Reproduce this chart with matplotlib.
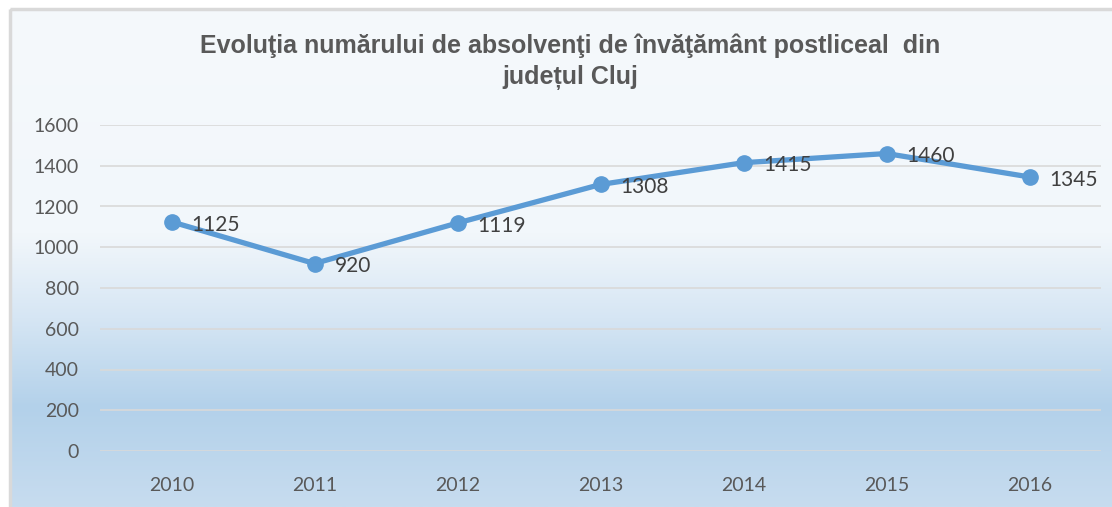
import matplotlib
matplotlib.use("Agg")
import matplotlib.pyplot as plt
import numpy as np
from matplotlib.colors import LinearSegmentedColormap
from matplotlib.patches import Rectangle

years = ["2010", "2011", "2012", "2013", "2014", "2015", "2016"]
values = [1125, 920, 1119, 1308, 1415, 1460, 1345]
yticks = [0, 200, 400, 600, 800, 1000, 1200, 1400, 1600]
title = "Evoluţia numărului de absolvenţi de învăţământ postliceal  din\njudețul Cluj"

W, H = 1112, 507
fig = plt.figure(figsize=(W / 100, H / 100), dpi=100)
fig.patch.set_facecolor("white")

# background gradient (chart area)
bg = fig.add_axes([0, 0, 1, 1], zorder=-10)
bg.set_xlim(0, W)
bg.set_ylim(H, 0)
bg.axis("off")
cmap = LinearSegmentedColormap.from_list(
    "g",
    [(0.0, "#F5F9FC"), (0.45, "#F2F7FB"), (0.62, "#D6E6F4"),
     (0.80, "#B3D1EA"), (1.0, "#C7DCEF")])
grad = np.linspace(0, 1, 256).reshape(-1, 1)
bg.imshow(grad, aspect="auto", cmap=cmap, extent=[11, W, H, 10], zorder=0)
bg.add_patch(Rectangle((10, 9), W, H, fill=False, edgecolor="#D9D9D9", lw=2.5, zorder=1))

ax = fig.add_axes([100 / W, (H - 451) / H, (1101 - 100) / W, (451 - 125) / H])
ax.patch.set_alpha(0)
x = np.arange(len(years))
ax.plot(x, values, color="#5B9BD5", lw=3.8, marker="o", ms=11, zorder=3,
        solid_capstyle="round")
for xi, v in zip(x, values):
    ax.annotate(str(v), (xi, v), xytext=(14.5, -2), textcoords="offset points",
                ha="left", va="center", fontsize=15, color="#404040",
                family=["Lato", "DejaVu Sans"], zorder=4)

ax.set_xlim(-0.5, len(years) - 0.5)
ax.set_ylim(0, 1600)
ax.set_yticks(yticks)
ax.set_yticklabels([str(t) for t in yticks], fontsize=14, color="#595959",
                   family=["Lato", "DejaVu Sans"])
ax.set_xticks(x)
ax.set_xticklabels(years, fontsize=14, color="#595959", family=["Lato", "DejaVu Sans"])
ax.tick_params(axis="both", length=0)
ax.tick_params(axis="y", pad=15)
ax.tick_params(axis="x", pad=19)
ax.grid(axis="y", color="#D9D9D9", lw=1.2)
ax.set_axisbelow(True)
for s in ax.spines.values():
    s.set_visible(False)

fig.text(570 / W, 1 - 62 / H, title, ha="center", va="center", fontsize=18,
         fontweight="bold", color="#595959", linespacing=1.38,
         family=["Liberation Sans Narrow", "Liberation Sans", "DejaVu Sans"])

fig.savefig("out.png", dpi=100)
